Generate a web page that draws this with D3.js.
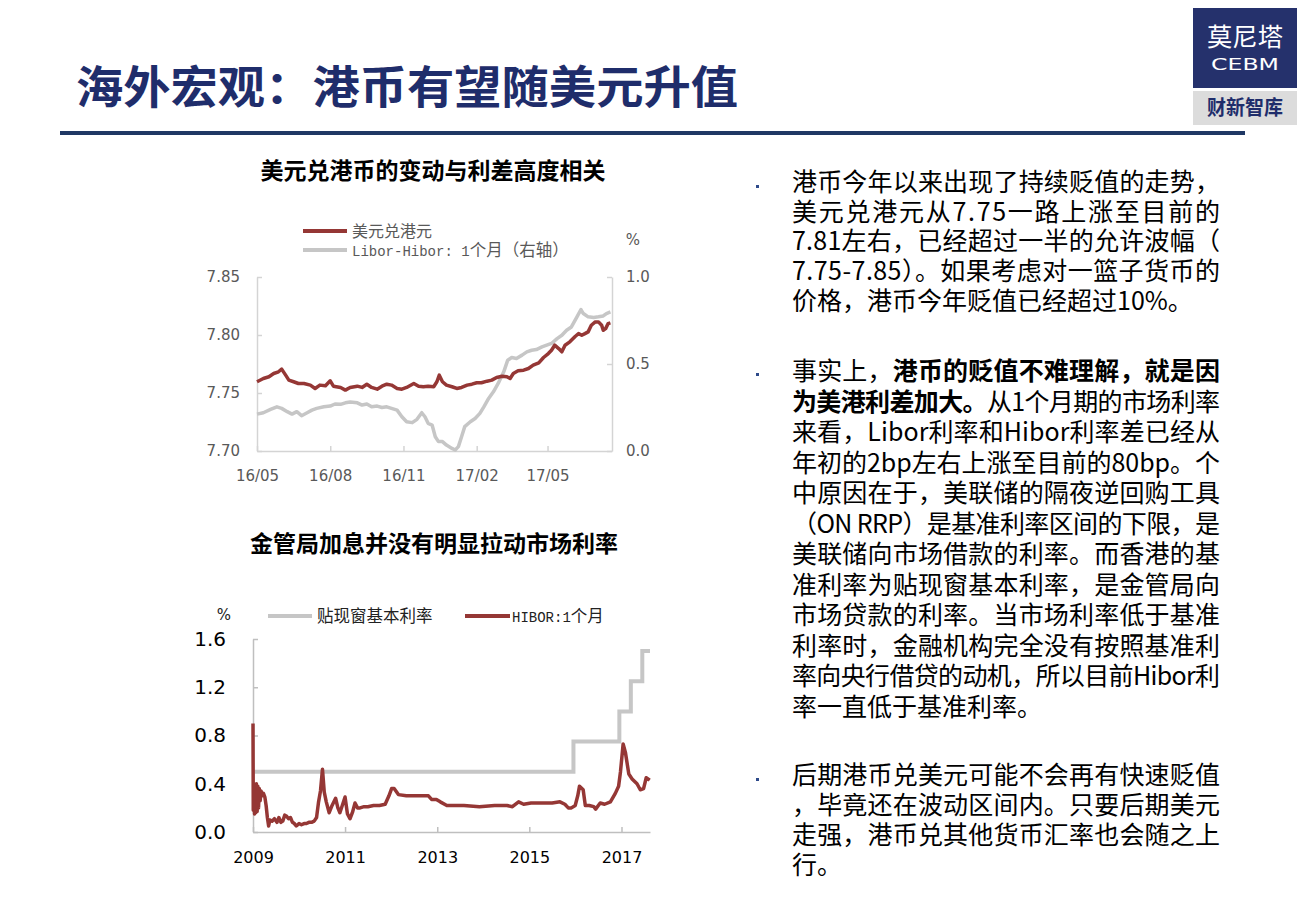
<!DOCTYPE html>
<html><head><meta charset="utf-8">
<script src="https://cdn.jsdelivr.net/npm/d3@7"></script>
<style>body{margin:0;background:#fff} svg{display:block}</style>
</head><body><svg id="c" width="1310" height="908"></svg>
<script>
// ---------- DATA ----------
// Chart 1: USD/HKD (left axis) and Libor-Hibor 1M spread (right axis, %)
const fxDates = ["2016-05-01","2016-05-09","2016-05-16","2016-05-22","2016-05-28","2016-06-01","2016-06-06","2016-06-10","2016-06-16","2016-06-22","2016-06-29","2016-07-07","2016-07-13","2016-07-19","2016-07-26","2016-08-01","2016-08-05","2016-08-14","2016-08-20","2016-08-26","2016-09-04","2016-09-10","2016-09-16","2016-09-22","2016-09-29","2016-10-05","2016-10-11","2016-10-17","2016-10-24","2016-10-30","2016-11-05","2016-11-14","2016-11-20","2016-11-26","2016-12-02","2016-12-09","2016-12-13","2016-12-16","2016-12-20","2016-12-25","2017-01-01","2017-01-07","2017-01-13","2017-01-20","2017-01-26","2017-02-01","2017-02-07","2017-02-14","2017-02-20","2017-02-26","2017-03-05","2017-03-11","2017-03-15","2017-03-19","2017-03-25","2017-04-01","2017-04-07","2017-04-13","2017-04-20","2017-04-26","2017-05-02","2017-05-06","2017-05-10","2017-05-15","2017-05-19","2017-05-23","2017-05-29","2017-06-05","2017-06-09","2017-06-13","2017-06-17","2017-06-21","2017-06-25","2017-06-30","2017-07-04","2017-07-08","2017-07-10","2017-07-13","2017-07-16","2017-07-19"];
const fxValues = [7.7597,7.7625,7.7640,7.7668,7.7683,7.7706,7.7654,7.7611,7.7597,7.7582,7.7582,7.7568,7.7539,7.7568,7.7562,7.7605,7.7559,7.7548,7.7525,7.7548,7.7559,7.7548,7.7576,7.7548,7.7533,7.7559,7.7576,7.7568,7.7539,7.7533,7.7548,7.7582,7.7559,7.7554,7.7559,7.7554,7.7597,7.7654,7.7597,7.7568,7.7554,7.7539,7.7548,7.7568,7.7576,7.7588,7.7588,7.7602,7.7611,7.7634,7.7645,7.7640,7.7625,7.7668,7.7691,7.7697,7.7711,7.7740,7.7760,7.7806,7.7840,7.7869,7.7912,7.7883,7.7855,7.7912,7.7941,7.7989,7.8012,7.7998,7.8012,7.8027,7.8084,7.8113,7.8113,7.8084,7.8041,7.8055,7.8098,7.8104];
const spreadDates = ["2016-05-01","2016-05-09","2016-05-18","2016-05-26","2016-06-01","2016-06-08","2016-06-14","2016-06-20","2016-06-26","2016-07-03","2016-07-09","2016-07-15","2016-07-24","2016-08-01","2016-08-07","2016-08-14","2016-08-20","2016-08-26","2016-09-04","2016-09-10","2016-09-16","2016-09-22","2016-09-29","2016-10-05","2016-10-11","2016-10-17","2016-10-24","2016-10-30","2016-11-05","2016-11-12","2016-11-18","2016-11-24","2016-11-28","2016-12-02","2016-12-07","2016-12-11","2016-12-15","2016-12-20","2016-12-25","2017-01-01","2017-01-05","2017-01-09","2017-01-13","2017-01-17","2017-01-24","2017-01-30","2017-02-05","2017-02-10","2017-02-16","2017-02-22","2017-02-28","2017-03-07","2017-03-12","2017-03-17","2017-03-23","2017-03-30","2017-04-05","2017-04-11","2017-04-17","2017-04-24","2017-04-30","2017-05-06","2017-05-13","2017-05-19","2017-05-25","2017-05-31","2017-06-07","2017-06-12","2017-06-15","2017-06-21","2017-06-28","2017-07-04","2017-07-10","2017-07-14","2017-07-19"];
const spreadValues = [0.212,0.220,0.239,0.254,0.245,0.226,0.212,0.226,0.203,0.220,0.235,0.245,0.254,0.258,0.270,0.268,0.277,0.281,0.277,0.264,0.270,0.254,0.258,0.250,0.254,0.245,0.235,0.197,0.168,0.163,0.182,0.220,0.197,0.159,0.149,0.082,0.054,0.054,0.034,0.015,0.006,0.025,0.082,0.140,0.168,0.187,0.216,0.254,0.302,0.340,0.388,0.455,0.522,0.537,0.532,0.551,0.570,0.579,0.583,0.598,0.608,0.618,0.646,0.665,0.694,0.713,0.771,0.813,0.790,0.771,0.767,0.771,0.776,0.790,0.799];
const x1Ticks = ["2016-05-01","2016-08-01","2016-11-01","2017-02-01","2017-05-01"];
const y1LeftTicks = [7.70,7.75,7.80,7.85];
const y1RightTicks = [0.0,0.5,1.0];

// Chart 2: HKMA base rate (step) and HIBOR 1M (%)
const baseDates = ["2009-01-01","2015-12-17","2016-12-15","2017-03-16","2017-06-15","2017-08-15"];
const baseValues = [0.50,0.75,1.00,1.25,1.50,1.50];
const hiborDates = ["2009-01-01","2009-01-03","2009-01-08","2009-01-13","2009-01-18","2009-01-23","2009-01-28","2009-02-03","2009-02-08","2009-02-14","2009-02-20","2009-02-27","2009-03-06","2009-03-15","2009-03-25","2009-04-05","2009-04-15","2009-04-25","2009-05-05","2009-05-15","2009-06-01","2009-06-20","2009-07-10","2009-07-25","2009-08-10","2009-08-25","2009-09-10","2009-09-25","2009-10-10","2009-10-25","2009-11-10","2009-11-25","2009-12-10","2010-01-01","2010-01-20","2010-02-10","2010-03-01","2010-03-20","2010-04-10","2010-05-01","2010-05-20","2010-06-05","2010-06-20","2010-07-06","2010-07-20","2010-08-05","2010-08-28","2010-09-20","2010-10-18","2010-11-05","2010-11-21","2010-12-10","2011-01-01","2011-01-20","2011-02-09","2011-02-28","2011-03-21","2011-04-10","2011-04-30","2011-06-01","2011-07-01","2011-08-15","2011-10-01","2011-11-15","2011-12-15","2012-01-05","2012-01-25","2012-02-28","2012-05-01","2012-08-01","2012-10-23","2012-11-17","2012-12-25","2013-01-25","2013-03-18","2013-08-01","2013-12-01","2014-04-01","2014-07-08","2014-08-20","2014-10-08","2014-11-17","2015-01-15","2015-04-01","2015-07-01","2015-09-01","2015-10-10","2015-11-06","2015-12-01","2015-12-31","2016-01-20","2016-02-03","2016-03-03","2016-03-20","2016-04-20","2016-05-26","2016-06-10","2016-07-16","2016-08-20","2016-10-05","2016-11-13","2016-12-09","2016-12-24","2017-01-14","2017-02-01","2017-02-28","2017-03-26","2017-05-04","2017-05-30","2017-06-25","2017-07-16","2017-08-13"];
const hiborValues = [0.90,0.18,0.40,0.15,0.39,0.16,0.40,0.17,0.38,0.20,0.36,0.26,0.34,0.30,0.32,0.29,0.22,0.12,0.05,0.10,0.09,0.11,0.08,0.12,0.08,0.09,0.14,0.13,0.11,0.12,0.08,0.07,0.05,0.07,0.06,0.07,0.07,0.08,0.08,0.09,0.12,0.25,0.34,0.52,0.33,0.25,0.16,0.22,0.28,0.20,0.16,0.22,0.29,0.15,0.11,0.16,0.24,0.20,0.20,0.21,0.21,0.22,0.22,0.23,0.30,0.36,0.36,0.31,0.30,0.30,0.30,0.27,0.27,0.25,0.22,0.22,0.21,0.22,0.22,0.21,0.25,0.23,0.24,0.24,0.24,0.25,0.23,0.20,0.20,0.22,0.30,0.38,0.35,0.22,0.22,0.21,0.19,0.24,0.23,0.25,0.32,0.38,0.50,0.73,0.66,0.48,0.44,0.40,0.35,0.36,0.45,0.43];
const x2Ticks = ["2009-01-01","2011-01-01","2013-01-01","2015-01-01","2017-01-01"];
const y2Ticks = [0.0,0.4,0.8,1.2,1.6];

// ---------- DRAW ----------
const parse = d3.timeParse("%Y-%m-%d");
const svg = d3.select("#c");
const RED = "#953735", GRAY = "#c6c6c6", NAVY = "#1f2d6b";
const CJK = "'Noto Sans CJK SC','Noto Sans',sans-serif";

svg.append("rect").attr("width",1310).attr("height",908).attr("fill","#fff");

// Header
svg.append("text").attr("x",76).attr("y",104).attr("font-family",CJK).attr("font-weight","bold")
  .attr("font-size",45).attr("fill",NAVY).attr("textLength",662).attr("lengthAdjust","spacingAndGlyphs")
  .text("海外宏观：港币有望随美元升值");
svg.append("rect").attr("x",60).attr("y",131).attr("width",1185).attr("height",4).attr("fill","#1f3864");

// Logo
svg.append("rect").attr("x",1193).attr("y",8).attr("width",104).attr("height",80).attr("fill","#25316c");
svg.append("rect").attr("x",1193).attr("y",91).attr("width",104).attr("height",34).attr("fill","#dcdcdc");
svg.append("text").attr("x",1245).attr("y",46).attr("text-anchor","middle").attr("font-family",CJK)
  .attr("font-size",25).attr("fill","#fff").attr("textLength",76).attr("lengthAdjust","spacingAndGlyphs").text("莫尼塔");
svg.append("text").attr("x",1245).attr("y",70).attr("text-anchor","middle").attr("font-family","'DejaVu Sans',sans-serif")
  .attr("font-size",15).attr("fill","#fff").attr("textLength",68).attr("lengthAdjust","spacingAndGlyphs").text("CEBM");
svg.append("text").attr("x",1245).attr("y",115).attr("text-anchor","middle").attr("font-family",CJK).attr("font-weight","bold")
  .attr("font-size",20).attr("fill",NAVY).attr("textLength",76).attr("lengthAdjust","spacingAndGlyphs").text("财新智库");

function styleAxis(g, color, textColor, fs){
  g.selectAll("path.domain").attr("stroke",color).attr("stroke-width",1.5);
  g.selectAll(".tick line").attr("stroke",color).attr("stroke-width",1.5);
  g.selectAll(".tick text").attr("fill",textColor).attr("font-size",fs)
    .attr("font-family","'DejaVu Sans',Verdana,sans-serif");
}

// ---------- Chart 1 ----------
svg.append("text").attr("x",433).attr("y",179).attr("text-anchor","middle").attr("font-family",CJK)
  .attr("font-weight","bold").attr("font-size",23).attr("fill","#000").text("美元兑港币的变动与利差高度相关");

const x1 = d3.scaleTime().domain([parse("2016-05-01"), parse("2017-07-21")]).range([257,612]);
const yL = d3.scaleLinear().domain([7.70,7.85]).range([451,277]);
const yR = d3.scaleLinear().domain([0,1]).range([451,277]);
const AX1 = "#d4d4d4", TX1 = "#595959";

const gx1 = svg.append("g").attr("transform","translate(0,451)")
  .call(d3.axisBottom(x1).tickValues(x1Ticks.map(parse)).tickFormat(d3.timeFormat("%y/%m")).tickSize(-5).tickSizeOuter(0).tickPadding(19));
styleAxis(gx1, AX1, TX1, 15);
const gyL = svg.append("g").attr("transform","translate(257,0)")
  .call(d3.axisLeft(yL).tickValues(y1LeftTicks).tickFormat(d3.format(".2f")).tickSize(-5).tickSizeOuter(0).tickPadding(17));
styleAxis(gyL, AX1, TX1, 15);
const gyR = svg.append("g").attr("transform","translate(612,0)")
  .call(d3.axisRight(yR).tickValues(y1RightTicks).tickFormat(d3.format(".1f")).tickSize(-5).tickSizeOuter(0).tickPadding(14));
styleAxis(gyR, AX1, TX1, 15);

const spreadLine = d3.line().x((d,i)=>x1(parse(spreadDates[i]))).y(d=>yR(d));
svg.append("path").datum(spreadValues).attr("d",spreadLine).attr("fill","none")
  .attr("stroke",GRAY).attr("stroke-width",3.5).attr("stroke-linejoin","round");
const fxLine = d3.line().x((d,i)=>x1(parse(fxDates[i]))).y(d=>yL(d));
svg.append("path").datum(fxValues).attr("d",fxLine).attr("fill","none")
  .attr("stroke",RED).attr("stroke-width",3.5).attr("stroke-linejoin","round");

// legend 1
svg.append("line").attr("x1",303).attr("x2",347).attr("y1",231).attr("y2",231).attr("stroke",RED).attr("stroke-width",4);
svg.append("line").attr("x1",303).attr("x2",347).attr("y1",250).attr("y2",250).attr("stroke",GRAY).attr("stroke-width",4);
svg.append("text").attr("x",352).attr("y",237).attr("font-family",CJK).attr("font-size",16).attr("fill",TX1).text("美元兑港元");
const lt = svg.append("text").attr("x",352).attr("y",256).attr("fill",TX1);
lt.append("tspan").attr("font-family","'Liberation Mono',monospace").attr("font-size",14).text("Libor-Hibor: 1");
lt.append("tspan").attr("font-family",CJK).attr("font-size",16.5).text("个月（右轴）");
svg.append("text").attr("x",633).attr("y",245).attr("text-anchor","middle").attr("font-family","'DejaVu Sans',sans-serif")
  .attr("font-size",15).attr("fill",TX1).text("%");

// ---------- Chart 2 ----------
svg.append("text").attr("x",434).attr("y",552).attr("text-anchor","middle").attr("font-family",CJK)
  .attr("font-weight","bold").attr("font-size",23).attr("fill","#000").text("金管局加息并没有明显拉动市场利率");

const x2 = d3.scaleTime().domain([parse("2009-01-01"), parse("2017-08-15")]).range([253,650]);
const y2 = d3.scaleLinear().domain([0,1.6]).range([832,639]);
const AX2 = "#bfbfbf";

const gx2 = svg.append("g").attr("transform","translate(0,832)")
  .call(d3.axisBottom(x2).tickValues(x2Ticks.map(parse)).tickFormat(d3.timeFormat("%Y")).tickSize(-5).tickSizeOuter(0).tickPadding(20));
styleAxis(gx2, AX2, "#000", 16);
const gy2 = svg.append("g").attr("transform","translate(253,0)")
  .call(d3.axisLeft(y2).tickValues(y2Ticks).tickFormat(d3.format(".1f")).tickSize(-5).tickSizeOuter(0).tickPadding(27));
styleAxis(gy2, AX2, "#000", 20);

const baseLine = d3.line().curve(d3.curveStepAfter).x((d,i)=>x2(parse(baseDates[i]))).y(d=>y2(d));
svg.append("path").datum(baseValues).attr("d",baseLine).attr("fill","none")
  .attr("stroke",GRAY).attr("stroke-width",4);
const hiborLine = d3.line().x((d,i)=>x2(parse(hiborDates[i]))).y(d=>y2(d));
svg.append("path").datum(hiborValues).attr("d",hiborLine).attr("fill","none")
  .attr("stroke",RED).attr("stroke-width",3.5).attr("stroke-linejoin","round");

// legend 2
svg.append("text").attr("x",224).attr("y",620).attr("text-anchor","middle").attr("font-family","'DejaVu Sans',sans-serif")
  .attr("font-size",15).attr("fill","#222").text("%");
svg.append("line").attr("x1",268).attr("x2",312).attr("y1",616).attr("y2",616).attr("stroke",GRAY).attr("stroke-width",4);
svg.append("text").attr("x",317).attr("y",622).attr("font-family",CJK).attr("font-size",16.5).attr("fill","#222").text("贴现窗基本利率");
svg.append("line").attr("x1",465).attr("x2",510).attr("y1",616).attr("y2",616).attr("stroke",RED).attr("stroke-width",4);
const lt2 = svg.append("text").attr("x",512).attr("y",622).attr("fill","#222");
lt2.append("tspan").attr("font-family","'Liberation Mono',monospace").attr("font-size",14).text("HIBOR:1");
lt2.append("tspan").attr("font-family",CJK).attr("font-size",16.5).text("个月");

// ---------- Right text ----------
const bullet1 = ["港币今年以来出现了持续贬值的走势，","美元兑港元从7.75一路上涨至目前的","7.81左右，已经超过一半的允许波幅（","7.75-7.85）。如果考虑对一篮子货币的","价格，港币今年贬值已经超过10%。"];
const bullet2 = [[["事实上，",0],["港币的贬值不难理解，就是因",1]],[["为美港利差加大。",1],["从1个月期的市场利率",0]],[["来看，Libor利率和Hibor利率差已经从",0]],[["年初的2bp左右上涨至目前的80bp。个",0]],[["中原因在于，美联储的隔夜逆回购工具",0]],[["（ON RRP）是基准利率区间的下限，是",0]],[["美联储向市场借款的利率。而香港的基",0]],[["准利率为贴现窗基本利率，是金管局向",0]],[["市场贷款的利率。当市场利率低于基准",0]],[["利率时，金融机构完全没有按照基准利",0]],[["率向央行借贷的动机，所以目前Hibor利",0]],[["率一直低于基准利率。",0]]];
const bullet3 = ["后期港币兑美元可能不会再有快速贬值","，毕竟还在波动区间内。只要后期美元","走强，港币兑其他货币汇率也会随之上","行。"];

const TX = 792, FS = 25, FULL = 428;
function para(lines, y0, step){
  lines.forEach((ln,i)=>{
    const t = svg.append("text").attr("x",TX).attr("y",y0+i*step).attr("font-family",CJK).attr("font-size",FS).attr("fill","#000");
    if (i < lines.length-1) t.attr("textLength",FULL).attr("lengthAdjust","spacing");
    const parts = typeof ln === "string" ? [[ln,0]] : ln;
    parts.forEach(p=>t.append("tspan").attr("font-weight",p[1]?"bold":"normal").text(p[0]));
  });
}
para(bullet1, 191, 29.7);
para(bullet2, 380, 30.5);
para(bullet3, 784, 29.9);
[185,373,778].forEach(y=>svg.append("rect").attr("x",756).attr("y",y).attr("width",3).attr("height",3).attr("fill","#2e4a8a"));
</script></body></html>
